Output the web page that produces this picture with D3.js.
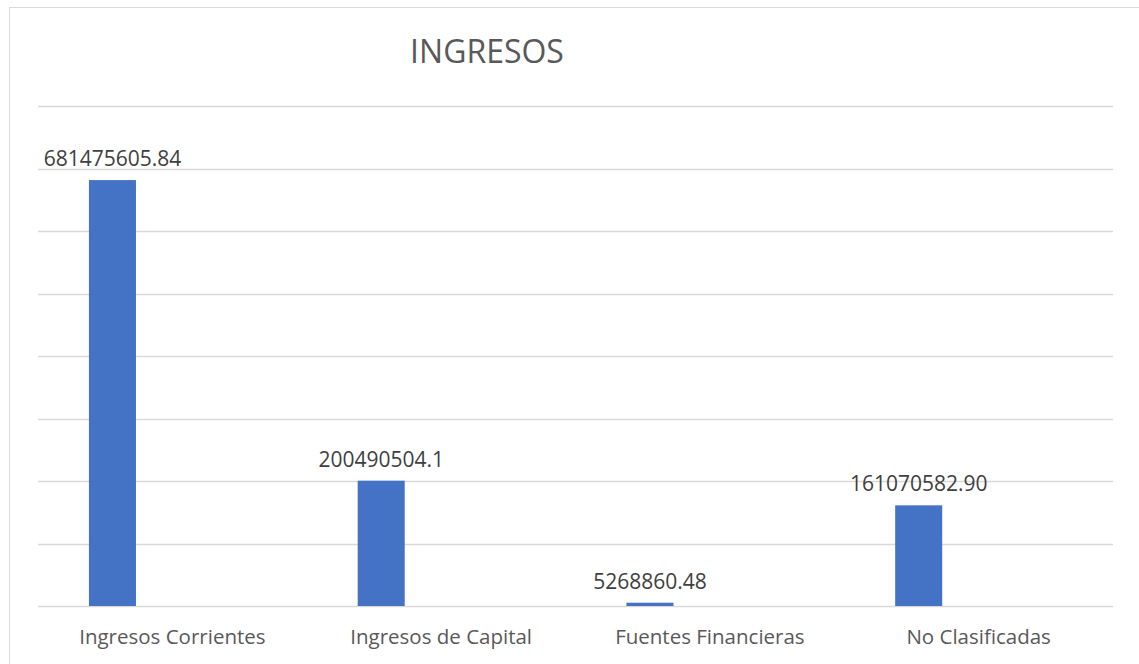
<!DOCTYPE html>
<html>
<head>
<meta charset="utf-8">
<script src="https://cdn.jsdelivr.net/npm/d3@7"></script>
<style>
  html, body { margin: 0; padding: 0; background: #fff; }
  svg { display: block; font-family: "Open Sans", sans-serif; }
</style>
</head>
<body>
<div id="chart"></div>
<script>
// data
const categories = ["Ingresos Corrientes", "Ingresos de Capital", "Fuentes Financieras", "No Clasificadas"];
const values = [681475605.84, 200490504.1, 5268860.48, 161070582.90];
const valueLabels = ["681475605.84", "200490504.1", "5268860.48", "161070582.90"];
const yTicks = [0, 100000000, 200000000, 300000000, 400000000, 500000000, 600000000, 700000000, 800000000];

const width = 1139, height = 664;
const margin = { top: 106, right: 26, bottom: 58, left: 38 };
const plotW = width - margin.left - margin.right;
const plotH = height - margin.top - margin.bottom;

const svg = d3.select("#chart").append("svg")
  .attr("width", width)
  .attr("height", height);

// chart frame
svg.append("rect")
  .attr("x", 9.5).attr("y", 7.5)
  .attr("width", width).attr("height", height)
  .attr("fill", "none")
  .attr("stroke", "#d9d9d9")
  .attr("stroke-width", 1);

svg.append("text")
  .attr("x", 487)
  .attr("y", 63)
  .attr("text-anchor", "middle")
  .attr("fill", "#595959")
  .style("font-size", "32px")
  .text("INGRESOS");

const g = svg.append("g")
  .attr("transform", `translate(${margin.left},${margin.top})`);

const x = d3.scaleBand()
  .domain(categories)
  .range([0, plotW]);

const y = d3.scaleLinear()
  .domain([0, d3.max(yTicks)])
  .range([plotH, 0]);

// gridlines
g.append("g")
  .selectAll("line")
  .data(yTicks)
  .join("line")
  .attr("x1", 0).attr("x2", plotW)
  .attr("y1", d => Math.round(y(d)) + 0.5)
  .attr("y2", d => Math.round(y(d)) + 0.5)
  .attr("stroke", "#d9d9d9")
  .attr("stroke-width", 1.5);

// bars sit left of the band centre (clustered layout with one series)
const barW = x.bandwidth() * 0.175;
const barCenter = x.bandwidth() * 0.277;

g.append("g")
  .selectAll("rect")
  .data(values)
  .join("rect")
  .attr("x", (d, i) => x(categories[i]) + barCenter - barW / 2)
  .attr("y", d => y(d))
  .attr("width", barW)
  .attr("height", d => y(0) - y(d))
  .attr("fill", "#4472c4");

// value labels
g.append("g")
  .selectAll("text")
  .data(values)
  .join("text")
  .attr("x", (d, i) => x(categories[i]) + barCenter)
  .attr("y", d => y(d) - 14)
  .attr("text-anchor", "middle")
  .attr("fill", "#404040")
  .style("font-size", "21px")
  .text((d, i) => valueLabels[i]);

// category axis
const xAxis = g.append("g")
  .attr("transform", `translate(0,${plotH})`)
  .call(d3.axisBottom(x).tickSize(0).tickPadding(0));
xAxis.select(".domain").remove();
xAxis.selectAll("text")
  .attr("dy", null)
  .attr("y", 38)
  .attr("fill", "#595959")
  .style("font-family", "Open Sans, sans-serif")
  .style("font-size", "20.5px");
</script>
</body>
</html>
